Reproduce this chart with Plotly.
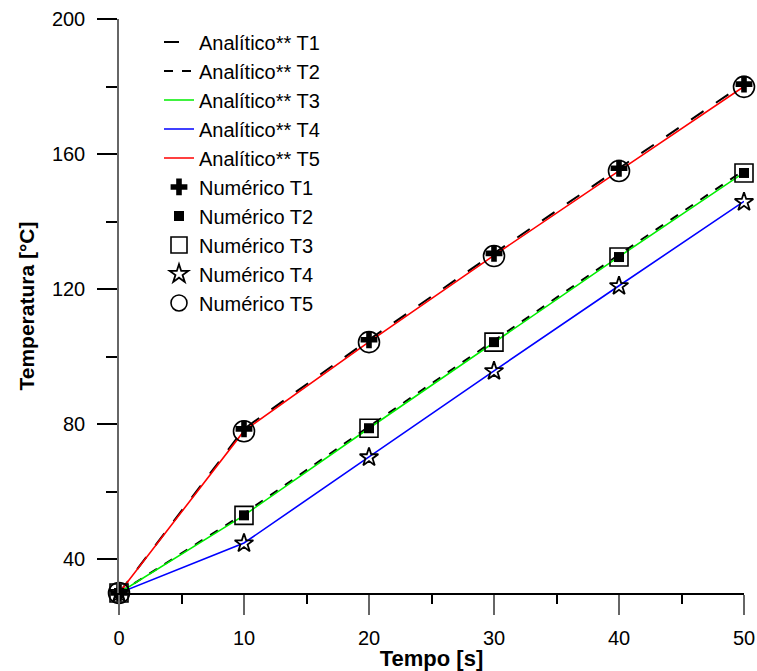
import plotly.graph_objects as go

# ---- data ----
tempo = [0, 10, 20, 30, 40, 50]

anal_T1 = [30, 78.6, 105.0, 130.6, 155.8, 180.8]
anal_T2 = [30, 53.5, 79.3, 104.8, 130.2, 155.2]
anal_T3 = [30, 53.0, 78.8, 104.3, 129.6, 154.5]
anal_T4 = [30, 44.8, 70.3, 95.8, 121.0, 146.0]
anal_T5 = [30, 78.0, 104.4, 130.0, 155.0, 180.0]

num_T1 = [30, 78.6, 105.0, 130.6, 155.8, 180.7]
num_T2 = [30, 53.0, 78.8, 104.3, 129.5, 154.4]
num_T3 = [30, 53.0, 78.8, 104.3, 129.5, 154.4]
num_T4 = [30, 44.7, 70.2, 95.7, 120.9, 145.8]
num_T5 = [30, 77.9, 104.3, 129.8, 155.0, 179.9]

FONT = "Liberation Sans, Arial, sans-serif"

fig = go.Figure()

lines = [
    ("Analítico** T1", anal_T1, "black", "longdash", 2),
    ("Analítico** T2", anal_T2, "black", "dash", 2),
    ("Analítico** T3", anal_T3, "#00ee00", "solid", 1.6),
    ("Analítico** T4", anal_T4, "#0000ff", "solid", 1.6),
    ("Analítico** T5", anal_T5, "#ff0000", "solid", 1.6),
]
for name, ys, col, dash, w in lines:
    fig.add_trace(go.Scatter(x=tempo, y=ys, mode="lines", name=name,
                             line=dict(color=col, dash=dash, width=w)))

markers = [
    ("Numérico T1", num_T1, "cross", 14, "black", 0),
    ("Numérico T2", num_T2, "square", 10, "black", 0),
    ("Numérico T3", num_T3, "square-open", 18, "black", 1.6),
    ("Numérico T4", num_T4, "star-open", 14, "black", 1.8),
    ("Numérico T5", num_T5, "circle-open", 21, "black", 1.6),
]
for name, ys, sym, sz, col, lw in markers:
    mk = dict(symbol=sym, size=sz, color=col)
    if lw:
        mk["line"] = dict(color=col, width=lw)
    fig.add_trace(go.Scatter(x=tempo, y=ys, mode="markers", name=name,
                             marker=mk, cliponaxis=False))

fig.update_layout(
    width=757, height=671,
    margin=dict(l=119, r=13, t=19, b=78, autoexpand=False),
    paper_bgcolor="white", plot_bgcolor="white",
    font=dict(family=FONT, size=20, color="black"),
    showlegend=True,
    legend=dict(x=0.064, y=0.994, xanchor="left", yanchor="top",
                bgcolor="rgba(0,0,0,0)", borderwidth=0,
                font=dict(family=FONT, size=20, color="black"),
                tracegroupgap=0),
    xaxis=dict(
        range=[0, 50], tickvals=[0, 10, 20, 30, 40, 50], automargin=False,
        ticks="outside", ticklen=20, tickwidth=1.5, tickcolor="#666",
        minor=dict(tickvals=[5, 15, 25, 35, 45], ticks="outside", ticklen=9,
                   tickcolor="black", tickwidth=1.5),
        showline=True, linecolor="black", linewidth=1.5,
        showgrid=False, zeroline=False,
        tickfont=dict(family=FONT, size=20),
        ticklabelstandoff=6,
        title=dict(text="<b>Tempo [s]</b>", standoff=2,
                   font=dict(family=FONT, size=22)),
    ),
    yaxis=dict(
        range=[30, 200], tickvals=[40, 80, 120, 160, 200], automargin=False,
        ticks="outside", ticklen=20, tickwidth=1.5, tickcolor="black",
        minor=dict(tickvals=[60, 100, 140, 180], ticks="outside", ticklen=11,
                   tickcolor="black", tickwidth=1.5),
        showline=True, linecolor="#666", linewidth=1.5,
        showgrid=False, zeroline=False,
        tickfont=dict(family=FONT, size=20),
        ticklabelstandoff=8,
        title=dict(text="<b>Temperatura [°C]</b>", standoff=12,
                   font=dict(family=FONT, size=21)),
    ),
    xaxis2=dict(
        overlaying="x", side="top", anchor="y", automargin=False,
        range=[0, 50], tickvals=[10, 20, 30, 40],
        ticks="inside", ticklen=13, tickwidth=1.5, tickcolor="black",
        minor=dict(tickvals=[5, 15, 25, 35, 45], ticks="inside", ticklen=10,
                   tickcolor="black", tickwidth=1.5),
        showline=True, linecolor="black", linewidth=1.5,
        showticklabels=False, showgrid=False, zeroline=False,
    ),
    yaxis2=dict(
        overlaying="y", side="right", anchor="x", automargin=False,
        range=[0, 10], tickvals=[2, 4, 6, 8],
        ticks="inside", ticklen=20, tickwidth=1.5, tickcolor="#555",
        minor=dict(tickvals=[1, 3, 5, 7, 9], ticks="inside", ticklen=11,
                   tickcolor="#555", tickwidth=1.5),
        showline=True, linecolor="#666", linewidth=1.5,
        showticklabels=False, showgrid=False, zeroline=False,
    ),
)

fig.write_html("out.html")
